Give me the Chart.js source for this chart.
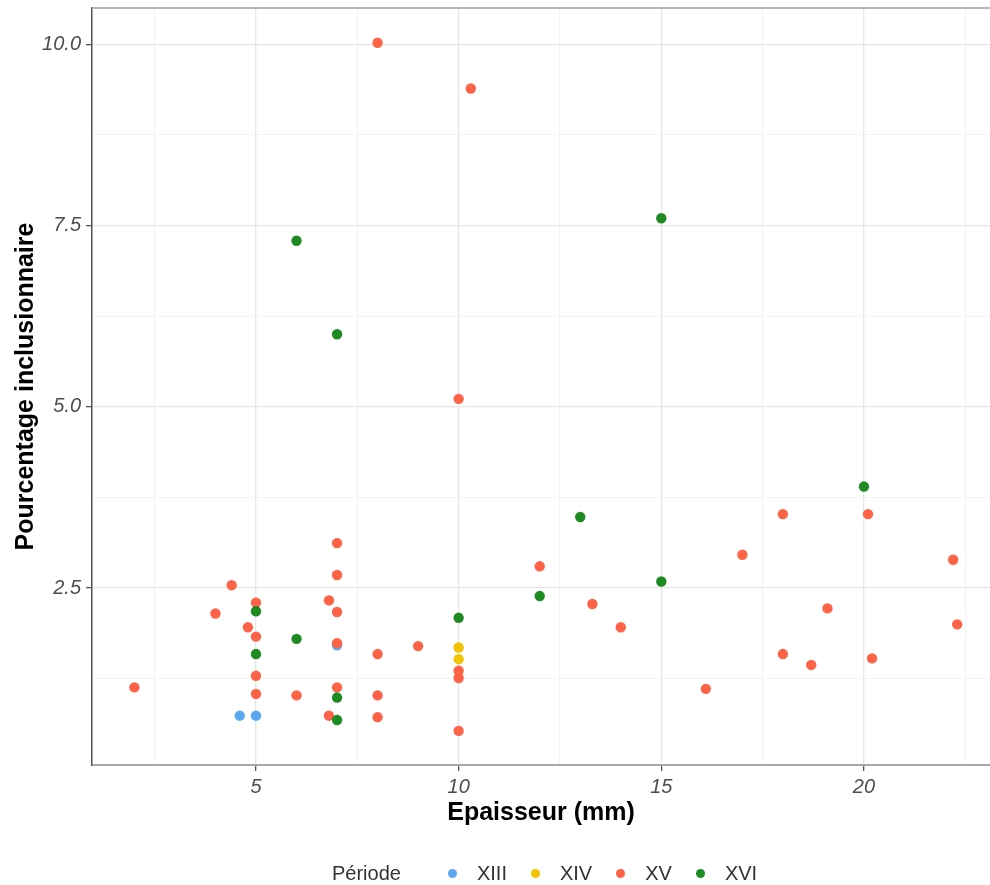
<!DOCTYPE html>
<html>
<head>
<meta charset="utf-8">
<script src="https://cdn.jsdelivr.net/npm/chart.js@4/dist/chart.umd.min.js"></script>
<style>
  body { margin: 0; background: #fff; font-family: "Liberation Sans", Arial, sans-serif; }
  #wrap { position: relative; width: 990px; height: 885px; }
  #legend { position: absolute; left: 332px; top: 862px; display: flex; align-items: center; font-size: 20px; color: #333; }
  #legend .title { margin-right: 47px; }
  #legend .item { display: flex; align-items: center; margin-right: 24px; }
  #legend .dot { width: 9px; height: 9px; border-radius: 50%; margin-right: 20px; }
</style>
</head>
<body>
<div id="wrap">
  <canvas id="chart" width="990" height="885"></canvas>
  <div id="legend"></div>
</div>
<script>
const periods = ["XIII", "XIV", "XV", "XVI"];
const colors = ["#5BA8F0", "#F2C300", "#FF6347", "#1E8B22"];

const xXIII = [4.6, 5, 7];
const yXIII = [0.74, 0.74, 1.71];

const xXIV = [10, 10];
const yXIV = [1.68, 1.52];

const xXV = [2.0, 4.0, 4.4, 4.8, 5, 5, 5, 5, 6, 6.8, 6.8, 7, 7, 7, 7, 7, 8, 8, 8, 8, 9, 10, 10, 10, 10, 10.3,
  12, 13.3, 14, 16.1, 17, 18, 18, 18.7, 19.1, 20.1, 20.2, 22.2, 22.3];
const yXV = [1.13, 2.15, 2.54, 1.96, 2.30, 1.83, 1.29, 1.04, 1.02, 2.33, 0.74, 3.12, 2.68, 2.17, 1.74, 1.13, 10.02, 1.59, 1.02, 0.72, 1.70, 5.11, 1.36, 1.26, 0.53, 9.39,
  2.80, 2.28, 1.96, 1.11, 2.96, 3.52, 1.59, 1.44, 2.22, 3.52, 1.53, 2.89, 2.0];

const xXVI = [5, 5, 6, 6, 7, 7, 7, 10, 12, 13, 15, 15, 20];
const yXVI = [2.18, 1.59, 1.80, 7.29, 6.0, 0.99, 0.68, 2.09, 2.39, 3.48, 2.59, 7.6, 3.90];

const xTicks = [2.5, 5, 7.5, 10, 12.5, 15, 17.5, 20, 22.5];
const yTicks = [1.25, 2.5, 3.75, 5, 6.25, 7.5, 8.75, 10];

const toPoints = (xs, ys) => xs.map((x, i) => ({ x: x, y: ys[i] }));
const seriesX = [xXIII, xXIV, xXV, xXVI];
const seriesY = [yXIII, yXIV, yXV, yXVI];

const isMajor = (v) => Math.abs(v / 2.5 - Math.round(v / 2.5)) < 1e-6 && Math.round(v / 2.5) % 2 === 0;
const isMajorY = (v) => Math.abs(v / 2.5 - Math.round(v / 2.5)) < 1e-6;

const tickFont = { family: "'Liberation Sans', Arial, sans-serif", size: 20, style: "italic" };
const titleFont = { family: "'Liberation Sans', Arial, sans-serif", size: 25, weight: "bold" };

// grey frame line along the top of the panel
const topLine = {
  id: "topLine",
  beforeDatasetsDraw(chart) {
    const { ctx, chartArea } = chart;
    ctx.save();
    ctx.strokeStyle = "#B5B5B5";
    ctx.lineWidth = 2;
    ctx.beginPath();
    ctx.moveTo(chartArea.left, chartArea.top);
    ctx.lineTo(chartArea.right, chartArea.top);
    ctx.stroke();
    ctx.restore();
  }
};

new Chart(document.getElementById("chart"), {
  type: "scatter",
  data: {
    datasets: periods.map((p, i) => ({
      label: p,
      data: toPoints(seriesX[i], seriesY[i]),
      backgroundColor: colors[i],
      borderColor: colors[i],
      borderWidth: 0,
      pointRadius: 5.2,
      order: periods.length - i
    }))
  },
  options: {
    responsive: false,
    animation: false,
    layout: { autoPadding: false, padding: { top: 8, right: 0, bottom: 45, left: 0 } },
    plugins: { legend: { display: false }, tooltip: { enabled: false } },
    scales: {
      x: {
        type: "linear",
        min: 0.954,
        max: 23.11,
        afterBuildTicks: (scale) => { scale.ticks = xTicks.map((v) => ({ value: v })); },
        afterFit: (scale) => {
          scale.height = 75;
          scale.paddingLeft = 0;
          scale.paddingRight = 0;
        },
        ticks: {
          font: tickFont,
          color: "#4D4D4D",
          padding: 4,
          maxRotation: 0,
          autoSkip: false,
          callback: (v) => (isMajor(v) ? String(v) : "")
        },
        grid: {
          color: (c) => (isMajor(c.tick.value) ? "#E6E6E6" : "#F3F3F3"),
          lineWidth: (c) => (isMajor(c.tick.value) ? 1.3 : 1),
          tickColor: (c) => (isMajor(c.tick.value) ? "#555" : "rgba(0,0,0,0)"),
          tickLength: 6
        },
        border: { display: true, color: "#A8A8A8", width: 2 },
        title: {
          display: true,
          text: "Epaisseur (mm)",
          font: titleFont,
          color: "#000",
          padding: { top: 0, bottom: 12 }
        }
      },
      y: {
        type: "linear",
        min: 0.06,
        max: 10.5,
        afterBuildTicks: (scale) => { scale.ticks = yTicks.map((v) => ({ value: v })); },
        afterFit: (scale) => {
          scale.width = 92;
          scale.paddingTop = 0;
          scale.paddingBottom = 0;
        },
        ticks: {
          font: tickFont,
          color: "#4D4D4D",
          padding: 5,
          autoSkip: false,
          callback: (v) => (isMajorY(v) ? v.toFixed(1) : "")
        },
        grid: {
          color: (c) => (isMajorY(c.tick.value) ? "#E6E6E6" : "#F3F3F3"),
          lineWidth: (c) => (isMajorY(c.tick.value) ? 1.3 : 1),
          tickColor: (c) => (isMajorY(c.tick.value) ? "#555" : "rgba(0,0,0,0)"),
          tickLength: 6
        },
        border: { display: true, color: "#555", width: 1.5 },
        title: {
          display: true,
          text: "Pourcentage inclusionnaire",
          font: titleFont,
          color: "#000",
          padding: { top: 11, bottom: 0 }
        }
      }
    }
  },
  plugins: [topLine]
});

const legend = document.getElementById("legend");
legend.innerHTML = `<span class="title">Période</span>`;
periods.forEach((p, i) => {
  const item = document.createElement("span");
  item.className = "item";
  item.innerHTML = `<span class="dot" style="background:${colors[i]}"></span><span>${p}</span>`;
  legend.appendChild(item);
});
</script>
</body>
</html>
